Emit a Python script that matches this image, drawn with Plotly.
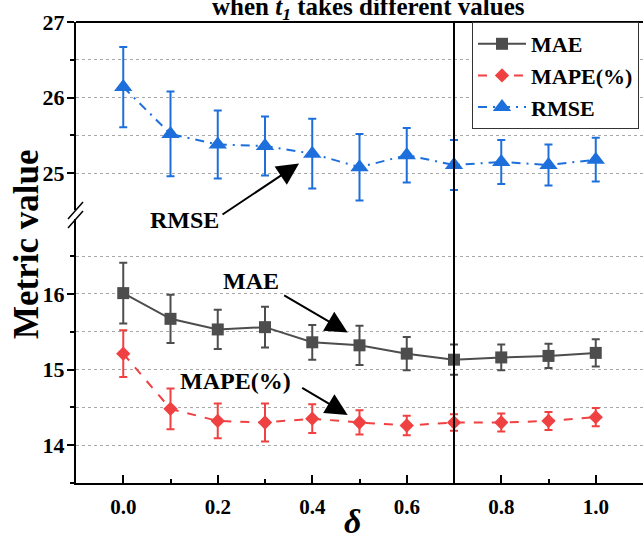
import plotly.graph_objects as go

# ---------------- data ----------------
delta = [0.0, 0.1, 0.2, 0.3, 0.4, 0.5, 0.6, 0.7, 0.8, 0.9, 1.0]
mae = [16.01, 15.67, 15.53, 15.56, 15.36, 15.32, 15.21, 15.13, 15.16, 15.18, 15.22]
mae_err = [0.40, 0.32, 0.26, 0.27, 0.23, 0.26, 0.22, 0.20, 0.17, 0.16, 0.18]
mape = [15.21, 14.48, 14.32, 14.30, 14.35, 14.30, 14.26, 14.30, 14.30, 14.32, 14.37]
mape_err = [0.31, 0.27, 0.23, 0.25, 0.19, 0.16, 0.13, 0.11, 0.12, 0.12, 0.12]
rmse = [26.14, 25.52, 25.38, 25.36, 25.26, 25.08, 25.24, 25.11, 25.15, 25.11, 25.18]
rmse_err = [0.53, 0.56, 0.45, 0.39, 0.46, 0.44, 0.36, 0.33, 0.29, 0.27, 0.29]
x_ticks = [0.0, 0.2, 0.4, 0.6, 0.8, 1.0]
x_ticktext = ["0.0", "0.2", "0.4", "0.6", "0.8", "1.0"]
y_low_ticks = [14, 15, 16]
y_high_ticks = [25, 26, 27]

# ---------------- layout geometry ----------------
W, H = 643, 537
ML, MR, MT, MB = 76, 0, 22, 54
PH = H - MT - MB
PW = W - ML - MR
low_range = [13.5, 16.99]
high_range = [24.51, 27.0]
U = 75.65
low_frac = (low_range[1] - low_range[0]) * U / PH
high_frac = (high_range[1] - high_range[0]) * U / PH

FONT = "Liberation Serif"
C_MAE = "#4d4d4d"
C_MAPE = "#ef4141"
C_RMSE = "#1d6fdc"
GRID = "#a8a8a8"


def px_x(px):
    return (px - ML) / PW


def px_y(py):
    return (H - MB - py) / PH


fig = go.Figure()

fig.add_trace(go.Scatter(
    x=delta, y=mae, name="MAE", mode="lines+markers",
    line=dict(color=C_MAE, width=2),
    marker=dict(symbol="square", size=12, color=C_MAE),
    error_y=dict(type="data", array=mae_err, color=C_MAE, thickness=2, width=4),
    xaxis="x", yaxis="y"))

fig.add_trace(go.Scatter(
    x=delta, y=mape, name="MAPE(%)", mode="lines+markers",
    line=dict(color=C_MAPE, width=2, dash="9px,9px"),
    marker=dict(symbol="diamond", size=11, color=C_MAPE),
    error_y=dict(type="data", array=mape_err, color=C_MAPE, thickness=2, width=4),
    xaxis="x", yaxis="y"))

fig.add_trace(go.Scatter(
    x=delta, y=rmse, name="RMSE", mode="lines+markers",
    line=dict(color=C_RMSE, width=2, dash="9px,6px,2px,6px"),
    marker=dict(symbol="triangle-up", size=16, color=C_RMSE),
    error_y=dict(type="data", array=rmse_err, color=C_RMSE, thickness=2, width=4),
    xaxis="x", yaxis="y2"))

tickfont_y = dict(family=FONT, size=22, color="black", weight="bold")
tickfont_x = dict(family=FONT, size=21, color="black", weight="bold")

fig.update_layout(
    width=W, height=H,
    margin=dict(l=ML, r=MR, t=MT, b=MB),
    plot_bgcolor="white", paper_bgcolor="white",
    showlegend=True,
    legend=dict(
        x=px_x(472), y=1, xanchor="left", yanchor="top",
        bgcolor="white", bordercolor="#333333", borderwidth=1,
        font=dict(family=FONT, size=22, color="black", weight="bold"),
        tracegroupgap=0, itemwidth=48,
    ),
    xaxis=dict(
        range=[-0.1, 1.1], anchor="y", domain=[0, 1],
        tickvals=x_ticks, ticktext=x_ticktext,
        ticks="inside", ticklen=8, tickwidth=2, tickcolor="black",
        minor=dict(tickvals=[0.1, 0.3, 0.5, 0.7, 0.9], ticks="inside", ticklen=4, tickwidth=2, tickcolor="black"),
        showline=True, linecolor="black", linewidth=2, mirror=False,
        showgrid=False, zeroline=False,
        tickfont=tickfont_x, ticklabelstandoff=4,
    ),
    yaxis=dict(
        range=low_range, domain=[0, low_frac], anchor="x",
        tickvals=y_low_ticks,
        ticks="outside", ticklen=7, tickwidth=2, tickcolor="black",
        minor=dict(dtick=0.5, ticks="outside", ticklen=4, tickwidth=2, tickcolor="black",
                   showgrid=True, gridcolor=GRID, griddash="dot", gridwidth=1),
        showgrid=True, gridcolor=GRID, griddash="dot", gridwidth=1,
        showline=True, linecolor="black", linewidth=2, zeroline=False,
        tickfont=tickfont_y, ticklabelstandoff=-2,
    ),
    yaxis2=dict(
        range=high_range, domain=[1 - high_frac, 1], anchor="x",
        tickvals=y_high_ticks,
        ticks="outside", ticklen=7, tickwidth=2, tickcolor="black",
        minor=dict(dtick=0.5, ticks="outside", ticklen=4, tickwidth=2, tickcolor="black",
                   showgrid=True, gridcolor=GRID, griddash="dot", gridwidth=1),
        showgrid=True, gridcolor=GRID, griddash="dot", gridwidth=1,
        showline=True, linecolor="black", linewidth=2, zeroline=False,
        tickfont=tickfont_y, ticklabelstandoff=-2,
    ),
)

shapes = []
# top border
shapes.append(dict(type="line", xref="paper", yref="paper", x0=0, x1=1, y0=1, y1=1,
                   line=dict(color="black", width=2), layer="above"))
# vertical reference line at delta = 0.7
shapes.append(dict(type="line", xref="x", yref="paper", x0=0.7, x1=0.7, y0=0, y1=1,
                   line=dict(color="black", width=2), layer="above"))
# axis break marks
for (x0, y0, x1, y1) in [(68, 219, 83, 202), (68, 228, 83, 211)]:
    shapes.append(dict(type="line", xref="paper", yref="paper",
                       x0=px_x(x0), y0=px_y(y0), x1=px_x(x1), y1=px_y(y1),
                       line=dict(color="black", width=1.5), layer="above"))
fig.update_layout(shapes=shapes)

ann_font = dict(family=FONT, size=24, color="black", weight="bold")
arrow_style = dict(showarrow=True, arrowhead=2, arrowsize=2.2, arrowwidth=2,
                   arrowcolor="black", standoff=0)
annotations = [
    # title (partially cut at top)
    dict(text="when <i>t</i><sub><i>1</i></sub> takes different values", xref="paper", yref="paper",
         x=px_x(368), y=px_y(26), xanchor="center", yanchor="bottom", showarrow=False,
         font=dict(family=FONT, size=25, color="black", weight="bold")),
    # y axis title
    dict(text="Metric value", xref="paper", yref="paper", x=px_x(26), y=px_y(244),
         xanchor="center", yanchor="middle", textangle=-90, showarrow=False,
         font=dict(family=FONT, size=35, color="black", weight="bold")),
    # x axis title
    dict(text="<i>δ</i>", xref="paper", yref="paper", x=px_x(352), y=px_y(521),
         xanchor="center", yanchor="middle", showarrow=False,
         font=dict(family=FONT, size=34, color="black", weight="bold")),
    # labels with arrows
    dict(text="RMSE", xref="x", yref="y", x=0.13, y=16.98, showarrow=False, font=ann_font),
    dict(text="", xref="x", yref="y2", x=0.372, y=25.13, ax=-78, ay=52, **arrow_style),
    dict(text="MAE", xref="x", yref="y", x=0.27, y=16.17, showarrow=False, font=ann_font),
    dict(text="", xref="x", yref="y", x=0.475, y=15.49, ax=-65, ay=-38, **arrow_style),
    dict(text="MAPE(%)", xref="x", yref="y", x=0.237, y=14.85, showarrow=False, font=ann_font),
    dict(text="", xref="x", yref="y", x=0.475, y=14.40, ax=-47, ay=-28, **arrow_style),
]
fig.update_layout(annotations=annotations)

fig.write_html("out.html", config={"displayModeBar": False},
               post_script="document.body.style.margin='0';document.body.style.padding='0';")
